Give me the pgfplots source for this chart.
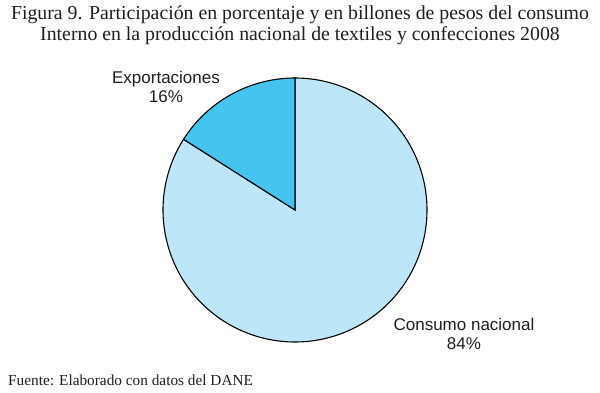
\documentclass[border=0pt]{standalone}
\usepackage{pgfplots}
\usepackage{pgfplotstable}
\pgfplotsset{compat=1.18}
\usepackage{fontspec}
\setmainfont{Liberation Serif}
\newfontfamily\labelfont{Liberation Sans}
\definecolor{darkslice}{RGB}{69,196,240}
\definecolor{lightslice}{RGB}{189,230,248}
\definecolor{txt}{RGB}{30,30,30}
\pgfplotstableread{
label value
Exportaciones 16
Consumo 84
}\piedata
\begin{document}
\begin{tikzpicture}
\pgfplotstablegetelem{0}{value}\of\piedata \let\vexp\pgfplotsretval
\pgfplotstablegetelem{1}{value}\of\piedata \let\vcon\pgfplotsretval
\pgfmathsetmacro\aA{90}
\pgfmathsetmacro\aB{90+3.6*\vexp}
\pgfmathsetmacro\aC{90+3.6*(\vexp+\vcon)}
\def\cx{295}\def\cy{182}\def\R{132}
\begin{axis}[
  width=600pt, height=392pt, scale only axis,
  xmin=0, xmax=600, ymin=0, ymax=392,
  hide axis, clip=false,
]
\path (rel axis cs:0,0) rectangle (rel axis cs:1,1);
\addplot[fill=lightslice, draw=black, line width=1.1pt, domain=\aB:\aC, samples=240, variable=\t, smooth]
  ({\cx+\R*cos(t)}, {\cy+\R*sin(t)}) -- (axis cs:\cx,\cy) -- cycle;
\addplot[fill=darkslice, draw=black, line width=1.1pt, domain=\aA:\aB, samples=60, variable=\t, smooth]
  ({\cx+\R*cos(t)}, {\cy+\R*sin(t)}) -- (axis cs:\cx,\cy) -- cycle;
\node[font=\labelfont\fontsize{17}{19}\selectfont, text=txt, align=center] at (axis cs:166,305) {Exportaciones\\16\%};
\node[font=\labelfont\fontsize{17}{19}\selectfont, text=txt, align=center] at (axis cs:464,58) {Consumo nacional\\84\%};
\node[font=\fontsize{19.8}{21}\selectfont, text=txt, align=center, anchor=north, inner sep=0pt] at (axis cs:300,386) {Figura 9. Participación en porcentaje y en billones de pesos del consumo\\Interno en la producción nacional de textiles y confecciones 2008};
\node[font=\fontsize{15.3}{17}\selectfont, text=txt, anchor=west, inner sep=0pt] at (axis cs:8,12) {Fuente: Elaborado con datos del DANE};
\end{axis}
\end{tikzpicture}
\end{document}
